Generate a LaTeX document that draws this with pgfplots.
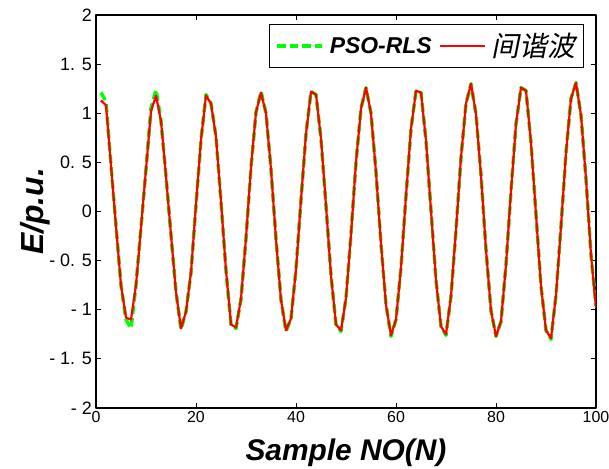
\documentclass[border=0pt]{standalone}
\usepackage{fontspec}
\setmainfont{Liberation Sans}
\newfontfamily\cjk[FakeSlant=0.2]{Noto Sans CJK SC}
\usepackage{pgfplots}
\usepackage{pgfplotstable}
\pgfplotsset{compat=1.18}
\pgfplotstableread{
x y
1 1.13
2 1.08
3 0.47
4 -0.15
5 -0.75
6 -1.08
7 -1.10
8 -0.75
9 -0.16
10 0.43
11 1.02
12 1.18
13 0.92
14 0.36
15 -0.24
16 -0.82
17 -1.19
18 -1.02
19 -0.62
20 0.07
21 0.73
22 1.18
23 1.10
24 0.76
25 0.10
26 -0.60
27 -1.15
28 -1.18
29 -0.89
30 -0.27
31 0.45
32 1.01
33 1.21
34 1.00
35 0.43
36 -0.28
37 -0.90
38 -1.21
39 -1.09
40 -0.59
41 0.12
42 0.79
43 1.22
44 1.19
45 0.74
46 0.06
47 -0.65
48 -1.15
49 -1.21
50 -0.88
51 -0.23
52 0.50
53 1.05
54 1.26
55 1.00
56 0.40
57 -0.33
58 -0.95
59 -1.26
60 -1.10
61 -0.57
62 0.16
63 0.84
64 1.23
65 1.21
66 0.72
67 0.01
68 -0.70
69 -1.17
70 -1.25
71 -0.86
72 -0.19
73 0.55
74 1.10
75 1.30
76 0.99
77 0.37
78 -0.39
79 -1.01
80 -1.27
81 -1.12
82 -0.54
83 0.21
84 0.89
85 1.26
86 1.23
87 0.70
88 -0.03
89 -0.76
90 -1.21
91 -1.29
92 -0.85
93 -0.15
94 0.60
95 1.15
96 1.31
97 0.98
98 0.33
99 -0.44
100 -0.98
}\redtab
\pgfplotstableread{
x y
1 1.21
2 1.12
3 0.47
4 -0.15
5 -0.75
6 -1.10
7 -1.19
8 -0.75
9 -0.16
10 0.43
11 1.05
12 1.24
13 0.92
14 0.36
15 -0.24
16 -0.82
17 -1.20
18 -1.02
19 -0.62
20 0.07
21 0.73
22 1.19
23 1.10
24 0.76
25 0.10
26 -0.60
27 -1.15
28 -1.19
29 -0.89
30 -0.27
31 0.45
32 1.01
33 1.22
34 1.00
35 0.43
36 -0.28
37 -0.90
38 -1.22
39 -1.09
40 -0.59
41 0.12
42 0.79
43 1.22
44 1.19
45 0.74
46 0.06
47 -0.65
48 -1.15
49 -1.22
50 -0.88
51 -0.23
52 0.50
53 1.05
54 1.26
55 1.00
56 0.40
57 -0.33
58 -0.95
59 -1.27
60 -1.10
61 -0.57
62 0.16
63 0.84
64 1.23
65 1.21
66 0.72
67 0.01
68 -0.70
69 -1.17
70 -1.26
71 -0.86
72 -0.19
73 0.55
74 1.10
75 1.30
76 0.99
77 0.37
78 -0.39
79 -1.01
80 -1.27
81 -1.12
82 -0.54
83 0.21
84 0.89
85 1.26
86 1.23
87 0.70
88 -0.03
89 -0.76
90 -1.21
91 -1.30
92 -0.85
93 -0.15
94 0.60
95 1.15
96 1.31
97 0.98
98 0.33
99 -0.44
100 -0.96
}\greentab
\begin{document}
\begin{tikzpicture}
\path[use as bounding box] (0,0) rectangle (609bp,469bp);
\begin{axis}[
  at={(96bp,61bp)}, anchor=south west,
  scale only axis, width=500bp, height=393bp,
  xmin=0, xmax=100, ymin=-2, ymax=2,
  xtick={0,20,...,100},
  ytick={-2,-1.5,...,2},
  yticklabels={- 2,- 1. 5,- 1,- 0. 5,0,0. 5,1,1. 5,2},
  /pgf/number format/assume math mode=true,
  yticklabel style={font=\fontsize{18}{18}\selectfont, inner sep=4bp},
  xticklabel style={font=\fontsize{16}{16}\selectfont, inner sep=3bp},
  tick align=inside,
  major tick length=5bp,
  tick style={black, line width=0.8bp},
  axis line style={line width=1.2bp},
  every axis x label/.style={at={(axis description cs:0.5,0)}, anchor=base, yshift=-52bp, inner sep=0pt},
  every axis y label/.style={at={(axis description cs:-0.104,0.5)}, anchor=base, rotate=90, inner sep=0pt},
  label style={font=\fontsize{30}{30}\selectfont\bfseries\itshape},
  ylabel style={font=\fontsize{32}{32}\selectfont\bfseries\itshape},
  xlabel={Sample NO(N)},
  ylabel={E/p.u.},
  legend image code/.code={\draw[#1] (0bp,0bp) -- (45bp,0bp);},
  legend style={at={(axis description cs:0.976,0.977)}, anchor=north east,
    legend columns=-1, draw=black, line width=1bp,
    font=\fontsize{23}{23}\selectfont, inner xsep=6bp, inner ysep=7bp,
    /tikz/every odd column/.append style={column sep=4bp},
    /tikz/every even column/.append style={column sep=5bp}},
  line join=round,
]
\addplot[color=green, line width=3.5bp, dash pattern=on 8.5bp off 4.2bp] table[x=x,y=y] {\greentab};
\addlegendentry{\bfseries\itshape PSO-RLS}
\addplot[color=red, line width=2.2bp, solid] table[x=x,y=y] {\redtab};
\addlegendentry{\fontsize{28}{28}\selectfont\cjk 间谐波}
\end{axis}
\end{tikzpicture}
\end{document}
